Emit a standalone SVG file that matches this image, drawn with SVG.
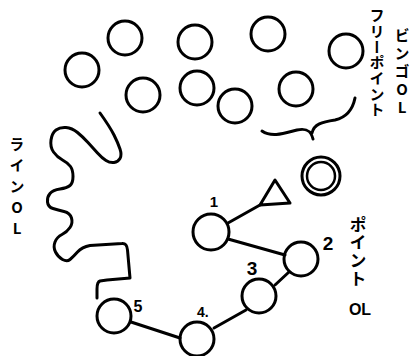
<svg xmlns="http://www.w3.org/2000/svg" width="414" height="356" viewBox="0 0 414 356">
<style>
.c{fill:none;stroke:#000;stroke-width:3}
.ln{fill:none;stroke:#000;stroke-width:3;stroke-linecap:round;stroke-linejoin:round}
.jp{font-family:"Noto Sans CJK JP","Noto Sans",sans-serif;font-weight:bold;fill:#000}
.v{writing-mode:vertical-rl;text-orientation:upright}
.n{font-family:"Liberation Sans","DejaVu Sans",sans-serif;font-weight:bold;fill:#000}
</style>
<rect width="414" height="356" fill="#fff"/>
<g id="free-points">
<g id="fp1"><circle class="c" cx="125" cy="38" r="17"/></g>
<g id="fp2"><circle class="c" cx="82" cy="70" r="17"/></g>
<g id="fp3"><circle class="c" cx="195" cy="42" r="17"/></g>
<g id="fp4"><circle class="c" cx="268" cy="34" r="17"/></g>
<g id="fp5"><circle class="c" cx="346" cy="51" r="17"/></g>
<g id="fp6"><circle class="c" cx="143" cy="95" r="17"/></g>
<g id="fp7"><circle class="c" cx="197" cy="88" r="17"/></g>
<g id="fp8"><circle class="c" cx="235" cy="106" r="17"/></g>
<g id="fp9"><circle class="c" cx="296" cy="89" r="17"/></g>
</g>
<g id="brace"><path class="ln" d="M262,131 C272,138 285,133 297,130 C306,128 311,130 313,139 M312,133 C314,124 322,122 335,120 C348,117 353,108 355,98"/></g>
<g id="goal"><circle class="c" cx="321" cy="176" r="19"/><circle class="c" cx="321" cy="176" r="14" style="stroke-width:2.5"/></g>
<g id="start"><polygon class="ln" points="260,205 290,203 275,180"/></g>
<g id="p1"><circle class="c" cx="211" cy="232" r="18"/><text class="n" x="214" y="207" font-size="15" text-anchor="middle">1</text></g>
<g id="p2"><circle class="c" cx="301" cy="259" r="17"/><text class="n" x="328" y="250" font-size="19" text-anchor="middle">2</text></g>
<g id="p3"><circle class="c" cx="259" cy="296" r="17"/><text class="n" x="252" y="275" font-size="19" text-anchor="middle">3</text></g>
<g id="p4"><circle class="c" cx="197" cy="339" r="17"/><text class="n" x="197" y="317" font-size="14">4.</text></g>
<g id="p5"><circle class="c" cx="114" cy="316" r="17"/><text class="n" x="138" y="312" font-size="16" text-anchor="middle">5</text></g>
<g id="connectors">
<path class="ln" d="M228,223 L260,205"/>
<path class="ln" d="M228,239 L285,255"/>
<path class="ln" d="M289,272 L275,285"/>
<path class="ln" d="M246,310 L214,328"/>
<path class="ln" d="M131,322 L180,338"/>
<path class="ln" d="M100,113 Q110,127 114,135 Q118,143 120,149 Q122,155 120,158.5 Q118,162 114,162.5 Q110,163 106,160.5 Q102,158 97.5,153 Q93,148 88,142.5 Q83,137 77.5,132.5 Q72,128 66,127.5 Q60,127 56,130 Q52,133 51,140 Q50,147 53.5,152 Q57,157 62.5,160 Q68,163 70.5,166.5 Q73,170 73,176.5 Q73,183 70,185.5 Q67,188 60,189 Q53,190 50,193.5 Q47,197 47.5,202 Q48,207 53,208.5 Q58,210 64,211.5 Q70,213 71.5,218 Q73,223 70,227.5 Q67,232 62,234.5 Q57,237 55,242 Q53,247 55.5,252 Q58,257 62.5,259.5 Q67,262 70,259.5 Q73,257 77.5,252 Q82,247 90,245.5 L122,243.5 Q127,243 127.5,250 L130,278 L107,280 L100,281 Q97,282 97,289 L97,298"/>
</g>
<g id="labels">
<text class="jp v" x="377" y="8" font-size="15" letter-spacing="0.7">フリーポイント</text>
<text class="jp v" x="402" y="28" font-size="15" letter-spacing="3">ビンゴOL</text>
<text class="jp v" x="17" y="137" font-size="15" letter-spacing="6">ラインOL</text>
<text class="jp v" x="358" y="216" font-size="17" letter-spacing="1">ポイント</text>
<text class="n" x="360" y="315" font-size="16" text-anchor="middle">OL</text>
</g>
</svg>
